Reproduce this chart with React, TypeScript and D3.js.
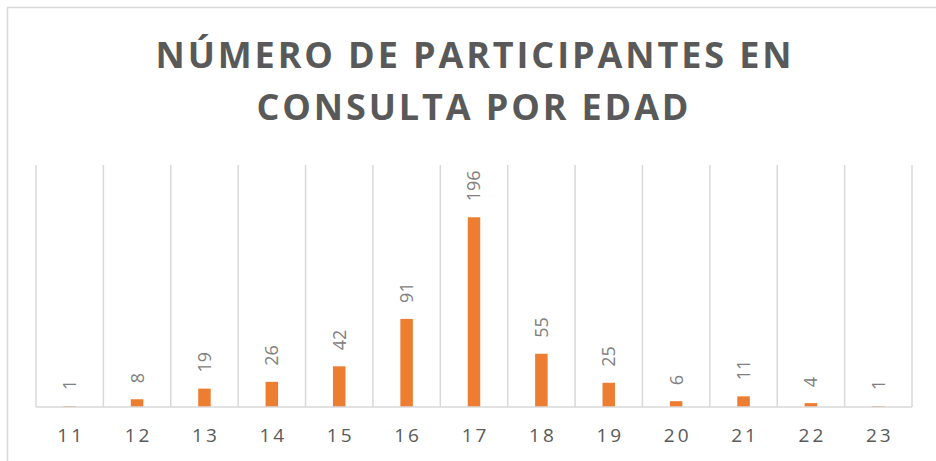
import React from "react";
import * as d3 from "d3";

const categories = ["11", "12", "13", "14", "15", "16", "17", "18", "19", "20", "21", "22", "23"];
const values = [1, 8, 19, 26, 42, 91, 196, 55, 25, 6, 11, 4, 1];
const titleLines = ["NÚMERO DE PARTICIPANTES EN", "CONSULTA POR EDAD"];
const yDomain = [0, 250];

const W = 936;
const H = 461;
const plotLeft = 36;
const plotRight = 912;
const plotTop = 165;
const plotBottom = 407;

export default function App() {
  const x = d3.scaleBand<string>().domain(categories).range([plotLeft, plotRight]).paddingInner(0).paddingOuter(0);
  const y = d3.scaleLinear().domain(yDomain).range([plotBottom, plotTop]);
  const barW = 12.5;
  const gridXs = [...categories.map((c) => x(c) as number), plotRight];
  const font = "'Open Sans', 'Noto Sans', sans-serif";

  return (
    <svg width={W} height={H} style={{ position: "absolute", left: 0, top: 0, background: "#fff" }}>
      <rect x={0} y={0} width={W} height={H} fill="#fff" />
      <line x1={7} y1={7.5} x2={W} y2={7.5} stroke="#d9d9d9" strokeWidth={1.5} />
      <line x1={7.5} y1={7} x2={7.5} y2={H} stroke="#d9d9d9" strokeWidth={1.5} />

      <text x={473.5} y={68} textAnchor="middle" fontFamily={font} fontWeight={700} fontSize={36}
        fill="#595959" textLength={636} lengthAdjust="spacing">{titleLines[0]}</text>
      <text x={472.5} y={120} textAnchor="middle" fontFamily={font} fontWeight={700} fontSize={36}
        fill="#595959" textLength={432} lengthAdjust="spacing">{titleLines[1]}</text>

      {gridXs.map((gx, i) => (
        <line key={"g" + i} x1={gx} x2={gx} y1={plotTop} y2={plotBottom} stroke="#d9d9d9" strokeWidth={1.5} />
      ))}

      {categories.map((c, i) => {
        const cx = (x(c) as number) + x.bandwidth() / 2;
        const top = y(values[i]);
        return (
          <g key={c}>
            <rect x={cx - barW / 2} y={top} width={barW} height={plotBottom - top} fill="#ED7D31" />
            <text transform={`translate(${cx},${top - 16}) rotate(-90)`} dy="0.36em" textAnchor="start"
              fontFamily={font} fontSize={18} fill="#808080">{values[i]}</text>
            <text x={cx + 1.5} y={442} textAnchor="middle" fontFamily={font} fontSize={19}
              letterSpacing={3} fill="#595959">{c}</text>
          </g>
        );
      })}

      <line x1={plotLeft} x2={plotRight} y1={plotBottom} y2={plotBottom} stroke="#d9d9d9" strokeWidth={1.5} />
    </svg>
  );
}
